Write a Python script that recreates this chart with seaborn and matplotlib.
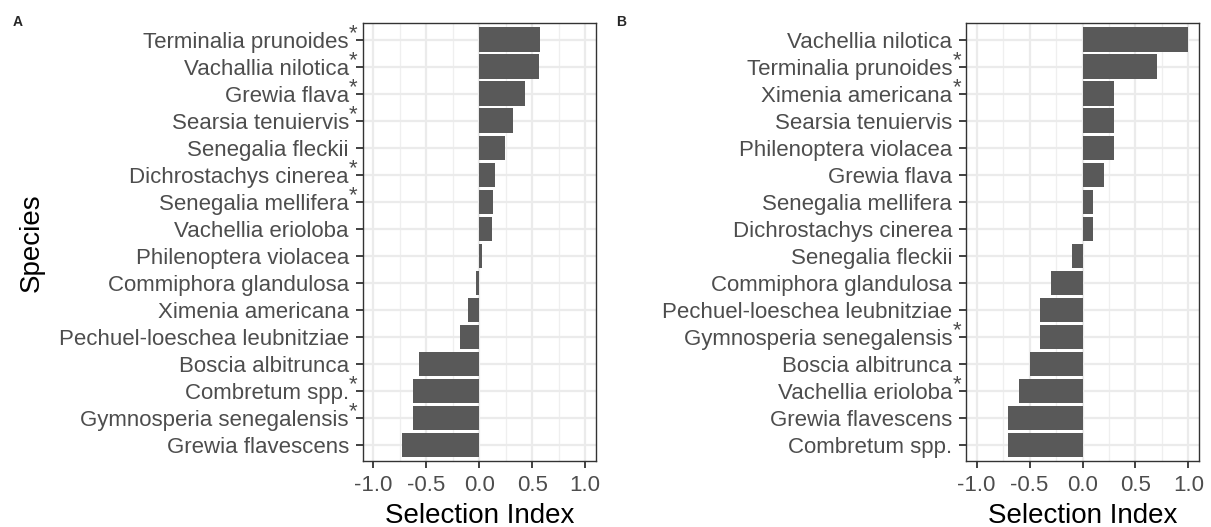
import matplotlib
matplotlib.use("Agg")
import matplotlib.pyplot as plt
import seaborn as sns
import pandas as pd
from matplotlib.ticker import MultipleLocator

species_a = ["Terminalia prunoides", "Vachallia nilotica", "Grewia flava", "Searsia tenuiervis",
             "Senegalia fleckii", "Dichrostachys cinerea", "Senegalia mellifera", "Vachellia erioloba",
             "Philenoptera violacea", "Commiphora glandulosa", "Ximenia americana",
             "Pechuel-loeschea leubnitziae", "Boscia albitrunca", "Combretum spp.",
             "Gymnosperia senegalensis", "Grewia flavescens"]
values_a = [0.575, 0.56, 0.43, 0.32, 0.24, 0.145, 0.13, 0.12, 0.03, -0.03, -0.11, -0.18,
            -0.57, -0.625, -0.625, -0.725]
signif_a = [1, 1, 1, 1, 0, 1, 1, 0, 0, 0, 0, 0, 0, 1, 1, 0]

species_b = ["Vachellia nilotica", "Terminalia prunoides", "Ximenia americana", "Searsia tenuiervis",
             "Philenoptera violacea", "Grewia flava", "Senegalia mellifera", "Dichrostachys cinerea",
             "Senegalia fleckii", "Commiphora glandulosa", "Pechuel-loeschea leubnitziae",
             "Gymnosperia senegalensis", "Boscia albitrunca", "Vachellia erioloba",
             "Grewia flavescens", "Combretum spp."]
values_b = [1.0, 0.7, 0.3, 0.3, 0.3, 0.2, 0.1, 0.1, -0.1, -0.3, -0.4, -0.4, -0.5, -0.6, -0.7, -0.7]
signif_b = [0, 1, 1, 0, 0, 0, 0, 0, 0, 0, 0, 1, 0, 1, 0, 0]

xticks = [-1.0, -0.5, 0.0, 0.5, 1.0]

sns.set_theme(style="white")
plt.rcParams['font.family'] = ['Liberation Sans', 'DejaVu Sans']

W, H = 1211, 527
fig = plt.figure(figsize=(W / 100, H / 100), dpi=100)
ax_a = fig.add_axes([362.7 / W, 1 - 461.3 / H, 233 / W, 438 / H])
ax_b = fig.add_axes([966 / W, 1 - 461.3 / H, 233 / W, 438 / H])

def draw(ax, species, values, signif, ylabel):
    df = pd.DataFrame({"Species": species, "Selection Index": values})
    ax.set_axisbelow(True)
    sns.barplot(data=df, x="Selection Index", y="Species", order=species, orient="h",
                color="#595959", saturation=1, width=0.9, edgecolor="none", ax=ax)
    ax.set_xlim(-1.1, 1.1)
    ax.set_ylim(len(species) - 0.4, -0.6)
    ax.set_xticks(xticks)
    ax.set_xticklabels([f"{t:.1f}" for t in xticks])
    ax.xaxis.set_minor_locator(MultipleLocator(0.25))
    ax.grid(True, which="major", axis="both", color="#EBEBEB", linewidth=1.6)
    ax.grid(True, which="minor", axis="x", color="#EFEFEF", linewidth=0.9)
    ax.tick_params(axis="both", which="major", length=5, width=1.3, color="#333333",
                   labelcolor="#4D4D4D", labelsize=16, direction="out",
                   bottom=True, left=True)
    ax.tick_params(axis="y", pad=5)
    ax.tick_params(axis="x", pad=5)
    ax.tick_params(axis="x", which="minor", length=0)
    for s in ax.spines.values():
        s.set_color("#333333")
        s.set_linewidth(1.0)
    ax.set_xlabel("Selection Index", fontsize=20, color="black", labelpad=5)
    if ylabel:
        ax.set_ylabel("Species", fontsize=20, color="black", labelpad=10)
    else:
        ax.set_ylabel("")
    tr = ax.get_yaxis_transform()
    for i, s in enumerate(signif):
        if s:
            ax.text(-0.04, i - 0.02, "*", transform=tr, ha="center", va="baseline",
                    fontsize=16, color="#4D4D4D", clip_on=False)

draw(ax_a, species_a, values_a, signif_a, True)
draw(ax_b, species_b, values_b, signif_b, False)

fig.text(18 / W, 1 - 22 / H, "A", fontsize=10, fontweight="bold", ha="center", va="center")
fig.text(621 / W, 1 - 22 / H, "B", fontsize=10, fontweight="bold", ha="center", va="center")

fig.savefig("out.png", dpi=100, facecolor="white")
